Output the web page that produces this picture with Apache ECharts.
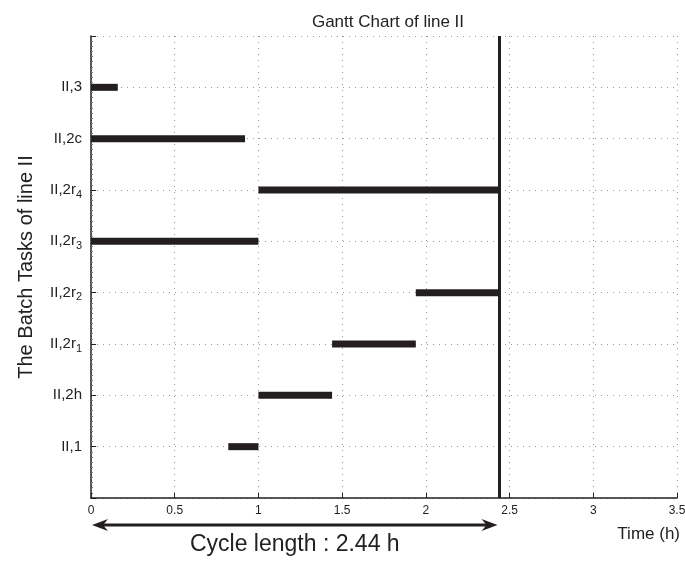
<!DOCTYPE html>
<html>
<head>
<meta charset="utf-8">
<script src="https://cdn.jsdelivr.net/npm/echarts@6/dist/echarts.min.js"></script>
<style>html,body{margin:0;padding:0;background:#fff}#c{width:685px;height:563px}</style>
</head>
<body>
<div id="c"></div>
<script>
// Task labels (base + subscript), bottom to top
const taskNames = ['II,1', 'II,2h', 'II,2r', 'II,2r', 'II,2r', 'II,2r', 'II,2c', 'II,3'];
const taskSubs  = ['',     '',      '1',     '2',     '3',     '4',     '',      ''];
const startTimes = [0.82, 1.00, 1.44, 1.94, 0.00, 1.00, 0.00, 0.00];
const endTimes   = [1.00, 1.44, 1.94, 2.44, 1.00, 2.44, 0.92, 0.16];
const cycleLength = 2.44;
const xTicks = [0, 0.5, 1, 1.5, 2, 2.5, 3, 3.5];

const FONT = '"Liberation Sans", Arial, Helvetica, sans-serif';
const INK = '#231f20';

const barData = taskNames.map((n, i) => [startTimes[i], endTimes[i], i + 1]);

const chart = echarts.init(document.getElementById('c'), null, {renderer: 'canvas'});
chart.setOption({
  animation: false,
  backgroundColor: '#fff',
  textStyle: {fontFamily: FONT},
  title: {
    text: 'Gantt Chart of line II',
    left: 383, top: 9, textAlign: 'center',
    textStyle: {fontFamily: FONT, fontSize: 17, fontWeight: 'normal', color: '#222'}
  },
  grid: {left: 91, right: 8, top: 36, bottom: 65, containLabel: false, outerBoundsMode: 'none'},
  xAxis: {
    type: 'value', min: xTicks[0], max: xTicks[xTicks.length - 1], interval: 0.5,
    axisLine: {show: true, onZero: false, lineStyle: {color: '#222', width: 1.5}},
    axisTick: {show: true, inside: true, length: 5, lineStyle: {color: '#222'}},
    axisLabel: {fontFamily: FONT, fontSize: 12, color: '#222', margin: 7,
      formatter: v => String(v)},
    splitLine: {show: true, lineStyle: {color: '#999', type: [1, 5], width: 1}}
  },
  yAxis: {
    type: 'value', min: 0, max: 9, interval: 1,
    name: 'The Batch Tasks of line II', nameLocation: 'middle', nameGap: 55,
    nameTextStyle: {fontFamily: FONT, fontSize: 20, color: '#222'},
    axisLine: {show: true, onZero: false, lineStyle: {color: '#222', width: 1.5}},
    axisTick: {show: true, inside: true, length: 5, lineStyle: {color: '#222'}},
    minorTick: {show: true, splitNumber: 10, length: 2, lineStyle: {color: '#777'}},
    axisLabel: {
      margin: 9,
      formatter: v => {
        const i = Math.round(v) - 1;
        if (i < 0 || i >= taskNames.length) return '';
        return taskSubs[i] ? '{b|' + taskNames[i] + '}{s|' + taskSubs[i] + '}' : '{b|' + taskNames[i] + '}';
      },
      rich: {
        b: {fontFamily: FONT, fontSize: 15, color: '#222', lineHeight: 20, verticalAlign: 'middle'},
        s: {fontFamily: FONT, fontSize: 11, color: '#222', lineHeight: 10, verticalAlign: 'bottom'}
      }
    },
    splitLine: {show: true, lineStyle: {color: '#999', type: [1, 5], width: 1}}
  },
  graphic: [{
    type: 'text', right: 5, top: 526,
    style: {text: 'Time (h)', font: '17px ' + FONT, fill: '#222'}
  }],
  series: [{
    type: 'custom',
    data: barData,
    encode: {x: [0, 1], y: 2},
    renderItem: (params, api) => {
      const p0 = api.coord([api.value(0), api.value(2)]);
      const p1 = api.coord([api.value(1), api.value(2)]);
      return {type: 'rect', shape: {x: p0[0], y: p0[1] - 3.5, width: p1[0] - p0[0], height: 7},
        style: {fill: INK}};
    },
    markLine: {
      silent: true, symbol: ['none', 'none'], label: {show: false},
      lineStyle: {color: INK, width: 3, type: 'solid'},
      data: [{xAxis: cycleLength}]
    },
    z: 3
  }, {
    type: 'custom',
    clip: false,
    data: [[0, cycleLength, 0]],
    encode: {x: [0, 1], y: 2},
    renderItem: (params, api) => {
      const a = api.coord([api.value(0), api.value(2)]);
      const b = api.coord([api.value(1), api.value(2)]);
      const y = a[1] + 27;
      const x0 = a[0] + 1, x1 = b[0] - 2;
      return {type: 'group', children: [
        {type: 'line', shape: {x1: x0 + 10, y1: y, x2: x1 - 10, y2: y}, style: {stroke: INK, lineWidth: 3}},
        {type: 'polygon', shape: {points: [[x0, y], [x0 + 16, y - 6], [x0 + 11, y], [x0 + 16, y + 6]]}, style: {fill: INK}},
        {type: 'polygon', shape: {points: [[x1, y], [x1 - 16, y - 6], [x1 - 11, y], [x1 - 16, y + 6]]}, style: {fill: INK}},
        {type: 'text', style: {text: 'Cycle length : ' + api.value(1) + ' h', x: (x0 + x1) / 2, y: y + 20,
          align: 'center', verticalAlign: 'middle', font: '23px ' + FONT, fill: '#222'}}
      ]};
    },
    z: 3
  }]
});
</script>
</body>
</html>
